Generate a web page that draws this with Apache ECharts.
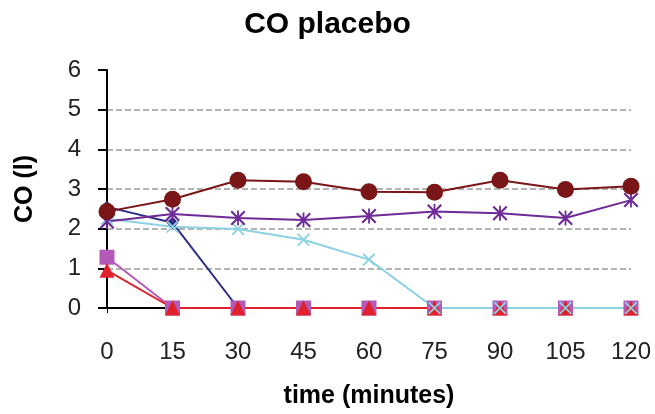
<!DOCTYPE html>
<html>
<head>
<meta charset="utf-8">
<script src="https://cdn.jsdelivr.net/npm/echarts@6/dist/echarts.min.js"></script>
<style>
html,body{margin:0;padding:0;background:#fff;}
#main{width:655px;height:414px;}
</style>
</head>
<body>
<div id="main"></div>
<script>
// 时间点（分钟）
var times = ['0', '15', '30', '45', '60', '75', '90', '105', '120'];
// 各受试者 CO 值
var navyVals = [2.55, 2.15, 0, 0, 0, 0, 0, 0, 0];
var pinkVals = [1.28, 0, 0, 0, 0, 0, 0, 0, 0];
var redVals = [0.95, 0, 0, 0, 0, 0, 0, 0, 0];
var cyanVals = [2.25, 2.05, 1.99, 1.72, 1.22, 0, 0, 0, 0];
var purpleVals = [2.18, 2.37, 2.27, 2.22, 2.32, 2.43, 2.39, 2.27, 2.72];
var maroonVals = [2.43, 2.74, 3.22, 3.18, 2.93, 2.92, 3.22, 2.99, 3.07];
var yTicks = [0, 1, 2, 3, 4, 5, 6];

var FONT = '"Liberation Sans", Arial, sans-serif';
var crossPath = 'path://M0,1L1,0L10,9L9,10Z M9,0L10,1L1,10L0,9Z';
var starPath = 'path://M0,1L1,0L10,9L9,10Z M9,0L10,1L1,10L0,9Z M4.4,0L5.6,0L5.6,10L4.4,10Z';

function mkSeries(name, data, color, symbol, size){
    return {
        name: name,
        type: 'line',
        data: data,
        symbol: symbol,
        symbolSize: size,
        showSymbol: true,
        lineStyle: {color: color, width: 2},
        itemStyle: {color: color, borderWidth: 0},
        emphasis: {disabled: true}
    };
}

var myChart = echarts.init(document.getElementById('main'));
myChart.setOption({
    animation: false,
    title: {
        text: 'CO placebo',
        left: 'center',
        top: 5,
        textStyle: {fontFamily: FONT, fontWeight: 'bold', fontSize: 30, color: '#000'}
    },
    grid: {left: 107, right: 24, top: 70, bottom: 105, containLabel: false},
    xAxis: {
        type: 'category',
        data: times,
        boundaryGap: false,
        name: 'time (minutes)',
        nameLocation: 'middle',
        nameGap: 76,
        nameTextStyle: {fontFamily: FONT, fontWeight: 'bold', fontSize: 25, color: '#000'},
        axisLine: {lineStyle: {color: '#000', width: 2}},
        axisTick: {show: true, alignWithLabel: true, length: 5, lineStyle: {color: '#000'}},
        axisLabel: {margin: 32, fontFamily: FONT, fontSize: 24, color: '#222'},
        splitLine: {show: false}
    },
    yAxis: {
        type: 'value',
        min: yTicks[0],
        max: yTicks[yTicks.length - 1],
        interval: 1,
        name: 'CO (l)',
        nameLocation: 'middle',
        nameGap: 69,
        nameRotate: 90,
        nameTextStyle: {fontFamily: FONT, fontWeight: 'bold', fontSize: 25, color: '#000'},
        axisLine: {show: true, lineStyle: {color: '#000', width: 2}},
        axisTick: {show: true, length: 9, lineStyle: {color: '#000', width: 2}},
        axisLabel: {margin: 26, fontFamily: FONT, fontSize: 24, color: '#222'},
        splitLine: {
            show: true,
            lineStyle: {
                type: [6, 3],
                width: 1.5,
                color: ['#9a9a9a', '#9a9a9a', '#9a9a9a', '#9a9a9a', '#9a9a9a', '#9a9a9a', 'transparent']
            }
        }
    },
    series: [
        mkSeries('navy', navyVals, '#2b2e86', 'diamond', 12),
        mkSeries('pink', pinkVals, '#b35ab8', 'rect', 15),
        mkSeries('red', redVals, '#e0202a', 'triangle', 15),
        mkSeries('cyan', cyanVals, '#8dd2e2', crossPath, 13),
        mkSeries('purple', purpleVals, '#6e2a96', starPath, 15),
        mkSeries('maroon', maroonVals, '#7a1518', 'circle', 17)
    ]
});
</script>
</body>
</html>
